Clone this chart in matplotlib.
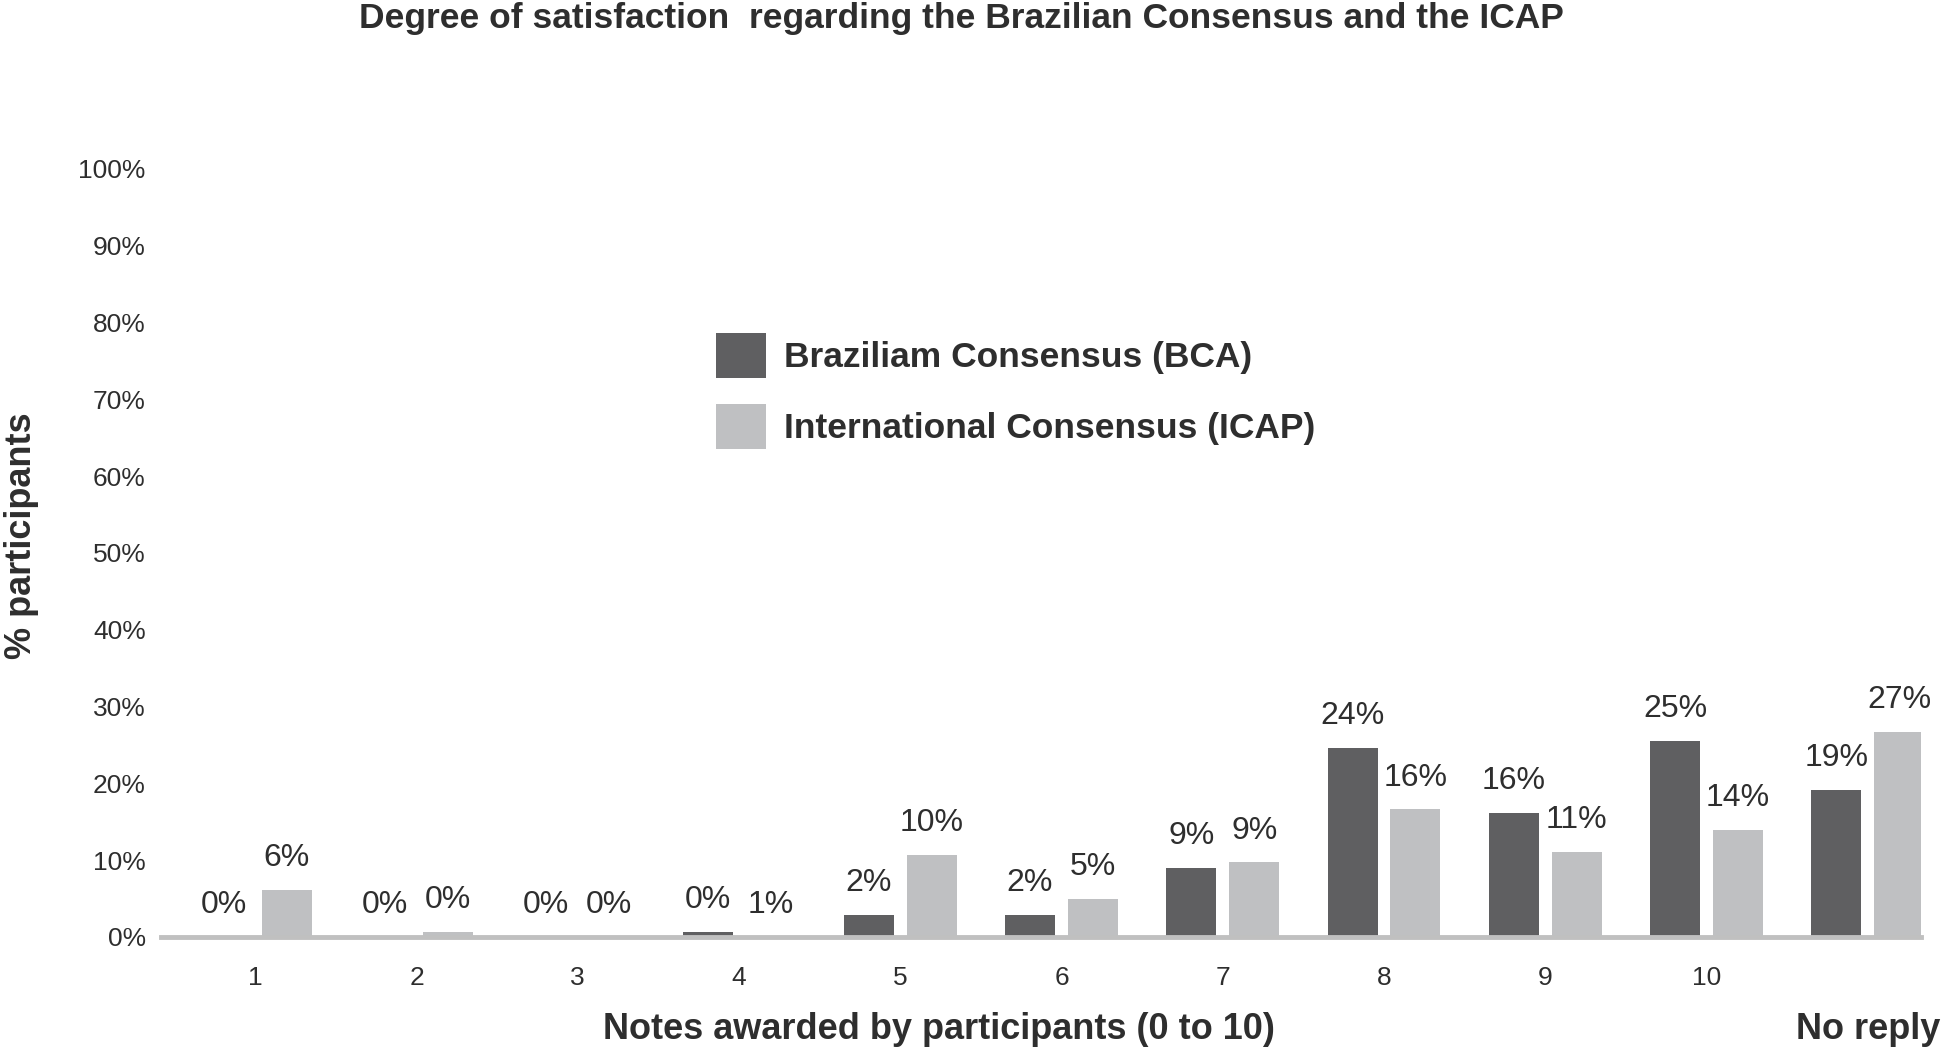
import matplotlib.pyplot as plt
import numpy as np

plt.rcParams['font.family'] = ['Liberation Sans', 'DejaVu Sans']

# data
categories = ['1', '2', '3', '4', '5', '6', '7', '8', '9', '10', 'No reply']
bca_values = [0, 0, 0, 0.7, 2.9, 2.9, 9.0, 24.6, 16.2, 25.5, 19.2]
icap_values = [6.1, 0.6, 0, 0, 10.7, 5.0, 9.7, 16.6, 11.1, 13.9, 26.7]
bca_labels = ['0%', '0%', '0%', '0%', '2%', '2%', '9%', '24%', '16%', '25%', '19%']
icap_labels = ['6%', '0%', '0%', '1%', '10%', '5%', '9%', '16%', '11%', '14%', '27%']
series_names = ['Braziliam Consensus (BCA)', 'International Consensus (ICAP)']
colors = ['#5f5f61', '#bfc0c2']
text_color = '#2e2e2e'

fig = plt.figure(figsize=(19.46, 10.47), dpi=100)
ax = fig.add_axes([0.0827, 0.1051, 0.9044, 0.7335])

x = np.arange(1, len(categories) + 1)
w = 0.31
off = 0.195
b1 = ax.bar(x - off, bca_values, w, color=colors[0], label=series_names[0])
b2 = ax.bar(x + off, icap_values, w, color=colors[1], label=series_names[1])

# value labels above bars
for bars, labels in ((b1, bca_labels), (b2, icap_labels)):
    for rect, lab in zip(bars, labels):
        ax.annotate(lab, (rect.get_x() + rect.get_width() / 2, rect.get_height()),
                    xytext=(0, 23), textcoords='offset points',
                    ha='center', va='center', fontsize=23, color=text_color)

ax.set_xlim(0.415, 11.33)
ax.set_ylim(0, 100)
ax.set_yticks(np.arange(0, 101, 10))
ax.set_yticklabels([f'{v}%' for v in range(0, 101, 10)])
ax.set_xticks(x)
ax.set_xticklabels(categories[:-1] + [''])
ax.tick_params(axis='both', length=0, labelsize=19, labelcolor=text_color)
ax.tick_params(axis='y', pad=11)
ax.tick_params(axis='x', pad=21)

for s in ('top', 'right', 'left'):
    ax.spines[s].set_visible(False)
ax.spines['bottom'].set_color('#c0c0c0')
ax.spines['bottom'].set_linewidth(3.5)

ax.set_xlabel('Notes awarded by participants (0 to 10)', fontsize=26,
              fontweight='bold', color=text_color, va='center')
ax.xaxis.set_label_coords(0.442, -0.12)
ax.text(1.0108, -0.12, categories[-1], transform=ax.transAxes, ha='right',
        va='center', fontsize=26, fontweight='bold', color=text_color)
ax.set_ylabel('% participants', fontsize=26, fontweight='bold', color=text_color)
ax.yaxis.set_label_coords(-0.0693, 0.522)

fig.text(0.494, 0.982, 'Degree of satisfaction  regarding the Brazilian Consensus and the ICAP',
         ha='center', va='center', fontsize=25.5, fontweight='bold', color=text_color)

ax.legend(loc='upper left', bbox_to_anchor=(0.3153, 0.7865), frameon=False,
          handlelength=1.42, handleheight=1.57, handletextpad=0.5,
          labelspacing=0.75, borderpad=0, borderaxespad=0,
          prop={'weight': 'bold', 'size': 25.5}, labelcolor=text_color)

fig.savefig('out.png', dpi=100)
